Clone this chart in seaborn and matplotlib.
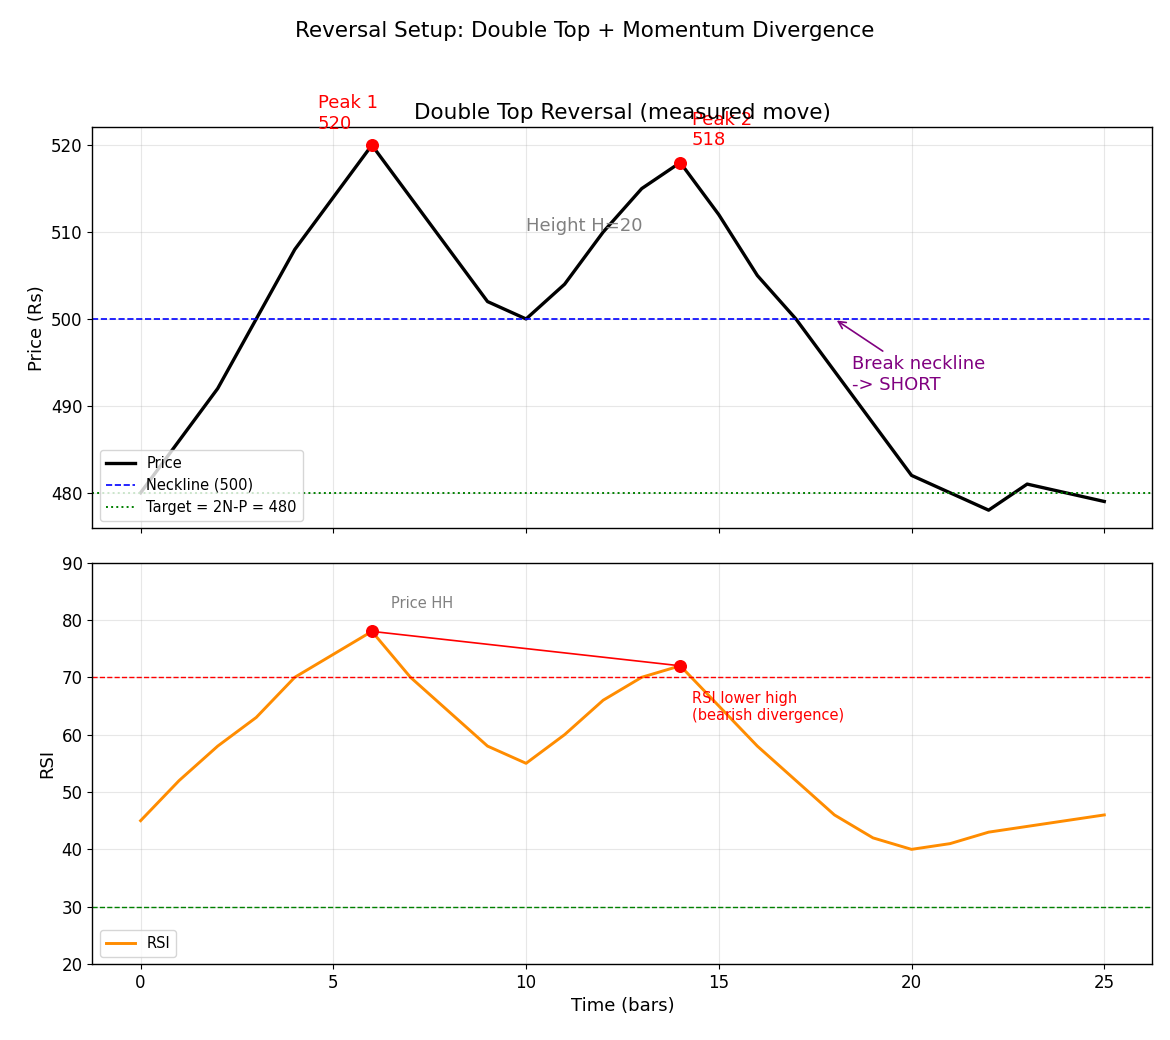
import numpy as np
import pandas as pd
import matplotlib
matplotlib.use("Agg")
import matplotlib.pyplot as plt
import seaborn as sns

# Price path (bars 0..25)
bars = list(range(26))
price = [480, 486, 492, 500, 508, 514, 520, 514, 508, 502, 500, 504, 510,
         515, 518, 512, 505, 500, 494, 488, 482, 480, 478, 481, 480, 479]
rsi = [45, 52, 58, 63, 70, 74, 78, 70, 64, 58, 55, 60, 66,
       70, 72, 65, 58, 52, 46, 42, 40, 41, 43, 44, 45, 46]

peak_bars = [6, 14]
neckline = 500
target = 480
rsi_overbought = 70
rsi_oversold = 30

df = pd.DataFrame({"bar": bars, "price": price, "rsi": rsi})
peaks = df[df["bar"].isin(peak_bars)]

plt.rcParams["font.family"] = ["DejaVu Sans"]
plt.rcParams["xtick.labelsize"] = 12
plt.rcParams["ytick.labelsize"] = 12
plt.rcParams["axes.labelsize"] = 13
plt.rcParams["axes.linewidth"] = 1.0

fig, (ax1, ax2) = plt.subplots(2, 1, figsize=(11.7, 10.4), dpi=100, sharex=True)
fig.subplots_adjust(left=0.079, right=0.985, top=0.878, bottom=0.073, hspace=0.085)

# --- top panel: price with double top
sns.lineplot(data=df, x="bar", y="price", color="black", linewidth=2.4, label="Price", ax=ax1)
ax1.axhline(neckline, color="blue", linestyle="--", linewidth=1.2, label=f"Neckline ({neckline})")
ax1.axhline(target, color="green", linestyle=":", linewidth=1.4, label=f"Target = 2N-P = {target}")
ax1.scatter(peaks["bar"], peaks["price"], color="red", s=70, zorder=5)
ax1.text(4.6, 521.4, "Peak 1\n520", color="red", fontsize=13, va="bottom")
ax1.text(14.3, 519.5, "Peak 2\n518", color="red", fontsize=13, va="bottom")
ax1.text(10, 510.7, "Height H=20", color="gray", fontsize=13, va="center")
ax1.annotate("Break neckline\n-> SHORT", xy=(18, 500), xytext=(18.45, 491.8),
             color="purple", fontsize=13,
             arrowprops=dict(arrowstyle="->", color="purple", lw=1.2))
ax1.set_title("Double Top Reversal (measured move)", fontsize=15.5)
ax1.set_ylabel("Price (Rs)")
ax1.set_xlabel("")
ax1.grid(True, alpha=0.3)
ax1.legend(loc="lower left", fontsize=10.5)

# --- bottom panel: RSI divergence
sns.lineplot(data=df, x="bar", y="rsi", color="darkorange", linewidth=2.1, label="RSI", ax=ax2)
ax2.axhline(rsi_overbought, color="red", linestyle="--", linewidth=1.0)
ax2.axhline(rsi_oversold, color="green", linestyle="--", linewidth=1.0)
ax2.plot(peaks["bar"], peaks["rsi"], color="red", linewidth=1.2)
ax2.scatter(peaks["bar"], peaks["rsi"], color="red", s=70, zorder=5)
ax2.text(6.5, 82, "Price HH", color="gray", fontsize=10.5)
ax2.text(14.3, 67.6, "RSI lower high\n(bearish divergence)", color="red", fontsize=10.5, va="top")
ax2.set_ylim(20, 90)
ax2.set_ylabel("RSI")
ax2.set_xlabel("Time (bars)")
ax2.grid(True, alpha=0.3)
ax2.legend(loc="lower left", fontsize=10.5)

fig.suptitle("Reversal Setup: Double Top + Momentum Divergence", fontsize=15.5)
plt.savefig("out.png")
